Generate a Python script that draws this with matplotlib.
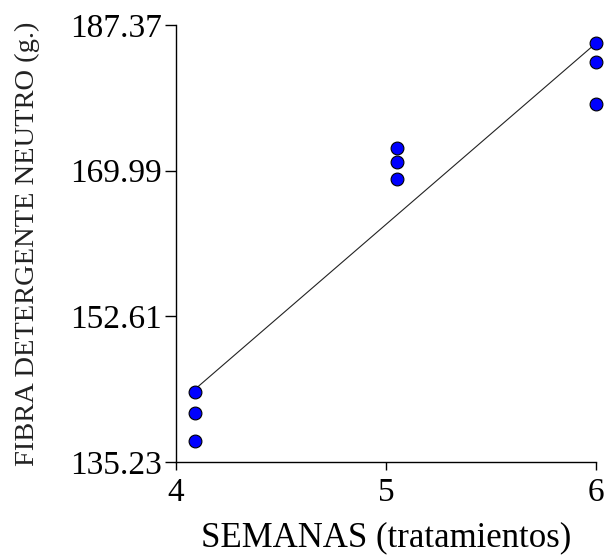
import matplotlib
matplotlib.use("Agg")
import matplotlib.pyplot as plt
import numpy as np

plt.rcParams['font.family'] = ['Liberation Serif', 'DejaVu Serif']

# semanas (puntos ligeramente desplazados como en el original)
semanas = [4.09, 4.09, 4.09, 5.05, 5.05, 5.05, 6.0, 6.0, 6.0]
fdn = [143.6, 141.1, 137.7, 172.7, 171.0, 169.0, 185.2, 183.0, 178.0]
yticks = [135.23, 152.61, 169.99, 187.37]
xticks = [4, 5, 6]

x = np.array(semanas)
y = np.array(fdn)
m, b = np.polyfit(x, y, 1)
xl = np.array([x.min(), x.max()])

fig = plt.figure(figsize=(6.07, 5.55), dpi=100)
ax = fig.add_axes([0.29, 0.1676, 0.692, 0.7874])

ax.plot(xl, m * xl + b, color='#222222', lw=0.8, zorder=1)
ax.scatter(x, y, s=85, color='#0000ff', edgecolor='black', linewidth=0.8, zorder=3, clip_on=False)

ax.set_xlim(4, 6)
ax.set_ylim(yticks[0], yticks[-1])
ax.set_xticks(xticks)
ax.set_yticks(yticks)
ax.set_yticklabels(['%.2f' % v for v in yticks])
ax.tick_params(axis='both', labelsize=24, direction='out', width=1)
ax.tick_params(axis='y', length=8, pad=2)
ax.tick_params(axis='x', length=6, pad=5)

for s in ['top', 'right']:
    ax.spines[s].set_visible(False)
for s in ['left', 'bottom']:
    ax.spines[s].set_linewidth(1)

ax.set_xlabel('SEMANAS (tratamientos)', fontsize=25, labelpad=10)
ax.set_ylabel('FIBRA DETERGENTE NEUTRO (g.)', fontsize=20.5, color='#222222', labelpad=22)

fig.savefig('out.png', dpi=100)
